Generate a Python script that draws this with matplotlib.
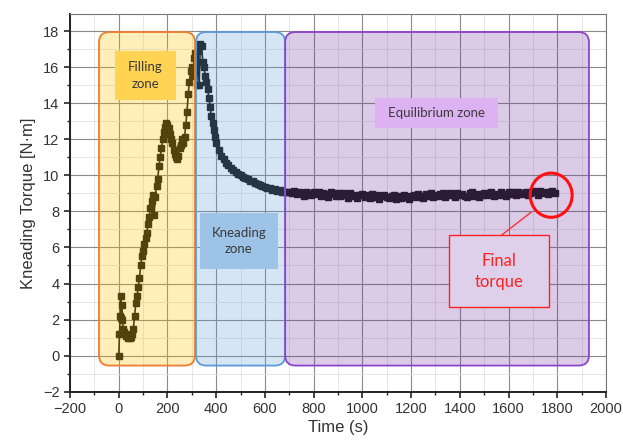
import matplotlib
matplotlib.use("Agg")
import matplotlib.pyplot as plt
from matplotlib.patches import FancyBboxPatch, Ellipse, Rectangle
from matplotlib.ticker import MultipleLocator

plt.rcParams["font.family"] = ["Liberation Sans", "DejaVu Sans"]

# --- data ---
time_s = [0, 3, 6, 8, 10, 12, 15, 18, 22, 26, 30, 35, 40, 45, 50, 55, 60, 65, 70, 75,
          80, 85, 90, 95, 100, 105, 110, 115, 120, 125, 130, 135, 140, 145, 150, 155, 160, 165, 170, 175,
          180, 185, 190, 195, 200, 205, 210, 215, 220, 225, 230, 235, 240, 245, 250, 255, 260, 265, 270, 275,
          280, 285, 290, 295, 300, 305, 310, 315, 320, 325, 330, 335, 340, 345, 350, 355, 360, 365, 370, 375,
          380, 385, 390, 395, 400, 410, 420, 430, 440, 450, 460, 470, 480, 490, 500, 510, 520, 530, 540, 550,
          560, 570, 580, 590, 600, 610, 620, 630, 640, 650, 660, 670, 680, 690, 700,
          710, 720, 730, 740, 750, 760, 770, 780, 790, 800,
          810, 820, 830, 840, 850, 860, 870, 880, 890, 900,
          910, 920, 930, 940, 950, 960, 970, 980, 990, 1000,
          1010, 1020, 1030, 1040, 1050, 1060, 1070, 1080, 1090, 1100,
          1110, 1120, 1130, 1140, 1150, 1160, 1170, 1180, 1190, 1200,
          1210, 1220, 1230, 1240, 1250, 1260, 1270, 1280, 1290, 1300,
          1310, 1320, 1330, 1340, 1350, 1360, 1370, 1380, 1390, 1400,
          1410, 1420, 1430, 1440, 1450, 1460, 1470, 1480, 1490, 1500,
          1510, 1520, 1530, 1540, 1550, 1560, 1570, 1580, 1590, 1600,
          1610, 1620, 1630, 1640, 1650, 1660, 1670, 1680, 1690, 1700,
          1710, 1720, 1730, 1740, 1750, 1760, 1770, 1780, 1790]
torque = [0.0, 1.2, 2.2, 3.3, 2.1, 2.8, 2.0, 1.5, 1.3, 1.2, 1.1, 1.1, 1.0, 1.0, 1.05, 1.2, 1.5, 2.2, 2.9, 3.3,
          3.8, 4.3, 5.0, 5.5, 5.8, 6.2, 6.5, 6.8, 7.3, 7.7, 8.2, 8.6, 8.9, 7.8, 8.8, 9.4, 9.8, 10.5, 11.0, 11.5,
          12.0, 12.4, 12.7, 12.9, 12.8, 12.6, 12.3, 12.0, 11.8, 11.4, 11.2, 11.0, 10.9, 11.1, 11.5, 11.7, 12.0, 11.8, 12.1, 12.8,
          13.5, 14.5, 15.2, 15.8, 16.0, 15.5, 16.5, 16.8, 15.0, 16.9, 15.0, 17.3, 17.2, 16.3, 16.0, 15.5, 15.2, 14.8, 14.3, 13.8,
          13.3, 12.9, 12.5, 12.1, 11.8, 11.4, 11.1, 10.9, 10.7, 10.6, 10.4, 10.3, 10.2, 10.1, 10.0, 9.9, 9.85, 9.8, 9.7, 9.7,
          9.6, 9.5, 9.45, 9.4, 9.35, 9.3, 9.3, 9.2, 9.25, 9.15, 9.2, 9.1, 9.1, 9.05, 9.1,
          9.0, 9.15, 8.95, 9.1, 9.0, 8.85, 9.1, 9.0, 8.9, 9.05,
          8.95, 9.1, 8.85, 9.0, 8.95, 8.8, 9.05, 8.95, 8.85, 9.0,
          8.85, 9.0, 8.9, 8.75, 9.0, 8.85, 8.9, 8.75, 8.9, 8.95,
          8.8, 8.9, 8.75, 8.95, 8.8, 8.9, 8.7, 8.85, 8.9, 8.8,
          8.75, 8.85, 8.9, 8.7, 8.85, 8.75, 8.9, 8.8, 8.7, 8.85,
          8.9, 8.8, 8.95, 8.85, 8.75, 8.95, 8.85, 9.0, 8.8, 8.9,
          8.85, 8.95, 9.0, 8.8, 8.9, 9.0, 8.9, 8.8, 9.0, 8.9,
          8.95, 8.85, 8.8, 9.0, 9.05, 8.85, 8.95, 8.8, 8.9, 9.0,
          8.9, 9.0, 9.05, 8.85, 8.95, 8.9, 9.05, 8.95, 8.85, 9.05,
          8.95, 9.05, 8.9, 9.1, 8.95, 9.0, 9.1, 8.9, 9.0, 9.15,
          9.05, 8.9, 9.15, 9.0, 9.1, 8.95, 9.05, 9.15, 9.0]

# zones: (label, x0, x1, fill, edge)
zones = [
    ("Filling zone", -81, 313, "#FFC000", "#ED7D31"),
    ("Kneading zone", 317, 683, "#5B9BD5", "#5B9BD5"),
    ("Equilibrium zone", 683, 1930, "#7030A0", "#8E44C8"),
]
zone_alpha = [0.27, 0.25, 0.25]
zone_bottom, zone_top = -0.55, 17.95

# label boxes: (text, x0, x1, y0, y1, colour)
labels = [
    ("Filling\nzone", -17, 237, 14.2, 16.9, "#FFD455"),
    ("Kneading\nzone", 332, 653, 4.8, 7.9, "#9DC3E6"),
    ("Equilibrium zone", 1050, 1555, 12.6, 14.3, "#DDB2F2"),
]

fig = plt.figure(figsize=(6.23, 4.43), dpi=100)
ax = fig.add_axes([0.1124, 0.1158, 0.8603, 0.8526])

ax.plot(time_s, torque, "s-", color="#141414", markersize=4.2, linewidth=1.2, zorder=2)

ax.set_xlim(-200, 2000)
ax.set_ylim(-2, 18.95)
ax.xaxis.set_major_locator(MultipleLocator(200))
ax.xaxis.set_minor_locator(MultipleLocator(100))
ax.yaxis.set_major_locator(MultipleLocator(2))
ax.yaxis.set_minor_locator(MultipleLocator(1))
ax.set_axisbelow(True)
ax.grid(True, which="major", color="#8a8a8a", linewidth=0.8)
ax.grid(True, which="minor", color="#e2e2e2", linewidth=0.6)

ax.tick_params(which="major", direction="out", length=4, width=1.2, labelsize=10.5, colors="#222222", labelcolor="#333333")
ax.tick_params(which="minor", direction="out", length=2.5, width=1.0, colors="#222222")
for side in ["left", "bottom"]:
    ax.spines[side].set_linewidth(1.4)
    ax.spines[side].set_color("#222222")
for side in ["top", "right"]:
    ax.spines[side].set_linewidth(0.8)
    ax.spines[side].set_color("#777777")

ax.set_xlabel("Time (s)", fontsize=12, color="#333333", labelpad=3)
ax.set_ylabel("Kneading Torque [N·m]", fontsize=12, color="#333333", labelpad=5)

# coloured zones drawn over the data, like shapes laid on top
aspect = 0.55 / 41
for (name, x0, x1, fill, edge), a in zip(zones, zone_alpha):
    box = FancyBboxPatch((x0, zone_bottom), x1 - x0, zone_top - zone_bottom,
                         boxstyle="round,pad=0,rounding_size=42", mutation_aspect=aspect,
                         facecolor=fill, alpha=a, edgecolor="none", zorder=3)
    ax.add_patch(box)
    outline = FancyBboxPatch((x0, zone_bottom), x1 - x0, zone_top - zone_bottom,
                             boxstyle="round,pad=0,rounding_size=42", mutation_aspect=aspect,
                             facecolor="none", edgecolor=edge, linewidth=1.3, zorder=3.5)
    ax.add_patch(outline)

for text, x0, x1, y0, y1, col in labels:
    ax.add_patch(Rectangle((x0, y0), x1 - x0, y1 - y0, facecolor=col, edgecolor="none", zorder=4))
    ax.text((x0 + x1) / 2, (y0 + y1) / 2, text, ha="center", va="center", fontsize=9.5,
            color="#3a3a3a", family=["Lato", "DejaVu Sans"], linespacing=1.45, zorder=5)

# final torque callout
ax.add_patch(Ellipse((1775, 8.9), 172, 2.45, facecolor="none", edgecolor="#FF1010", linewidth=2.2, zorder=5))
ax.plot([1570, 1693], [6.67, 7.96], color="#FF3030", linewidth=1.0, zorder=5)
ax.add_patch(Rectangle((1357, 2.7), 411, 3.97, facecolor="#DED0EA", edgecolor="#FF2020", linewidth=1.0, zorder=5))
ax.text(1562, 4.68, "Final\ntorque", ha="center", va="center", fontsize=12, color="#FF2020",
        family=["Lato", "DejaVu Sans"], linespacing=1.4, zorder=6)

fig.savefig("out.png", dpi=100)
